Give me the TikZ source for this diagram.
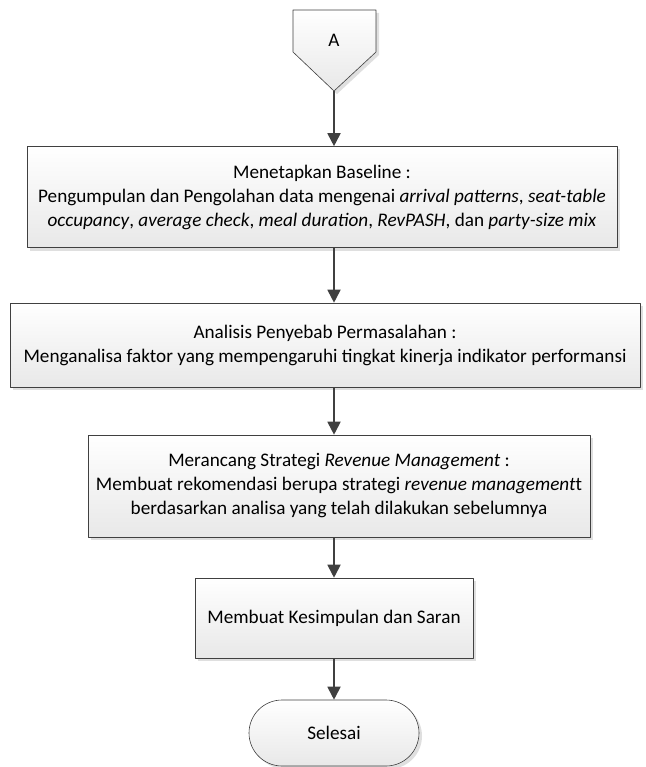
\documentclass[tikz,border=0pt]{standalone}
\usepackage{fontspec}
\setmainfont{Carlito}
\usepackage{tikz}
\usetikzlibrary{arrows.meta}
\usetikzlibrary{positioning}
\usetikzlibrary{shadows}

\begin{document}
\begin{tikzpicture}[line cap=round,line join=round,>={Triangle[length=13pt,width=13pt]},x=1pt,y=-1pt,
  font=\fontsize{19.2}{24}\selectfont,
  proc/.style={draw=black!75,line width=0.6pt,top color=white,bottom color=black!9,
    drop shadow={shadow xshift=3pt,shadow yshift=-3pt,fill=black!25},
    align=center,inner sep=0pt},
  flow/.style={->,draw=black!75,fill=black!75,line width=1.8pt,line cap=butt}]
\useasboundingbox (0,0) rectangle (645,767);
\draw[draw=black!75,line width=0.6pt,top color=white,bottom color=black!9,
  drop shadow={shadow xshift=3pt,shadow yshift=-3pt,fill=black!25}]
  (293,10) -- (376,10) -- (376,52) -- (334,91) -- (293,52) -- cycle;
\node (A) at (334,40) {A};
\coordinate (Atip) at (334,91);
\node[proc,minimum width=590pt,minimum height=101pt] (baseline) at (322,197)
  {Menetapkan Baseline :\\
   Pengumpulan dan Pengolahan data mengenai \textit{arrival patterns}, \textit{seat-table}\\
   \textit{occupancy}, \textit{average check}, \textit{meal duration}, \textit{RevPASH}, dan \textit{party-size mix}};
\node[proc,minimum width=630pt,minimum height=84pt] (analisis) at (325,345)
  {Analisis Penyebab Permasalahan :\\
   Menganalisa faktor yang mempengaruhi tingkat kinerja indikator performansi};
\node[proc,minimum width=502pt,minimum height=102pt] (rancang) at (339,486)
  {Merancang Strategi \textit{Revenue Management} :\\
   Membuat rekomendasi berupa strategi \textit{revenue management}t\\
   berdasarkan analisa yang telah dilakukan sebelumnya};
\node[proc,minimum width=278pt,minimum height=80pt] (simpul) at (334,618)
  {Membuat Kesimpulan dan Saran};
\node[proc,minimum width=170pt,minimum height=66pt,rounded corners=33pt] (selesai) at (334,733)
  {Selesai};
\draw[flow] (Atip) -- (baseline.north -| Atip);
\draw[flow] (baseline.south -| Atip) -- (analisis.north -| Atip);
\draw[flow] (analisis.south -| Atip) -- (rancang.north -| Atip);
\draw[flow] (rancang.south -| Atip) -- (simpul.north -| Atip);
\draw[flow] (simpul.south -| Atip) -- (selesai.north -| Atip);
\end{tikzpicture}
\end{document}
